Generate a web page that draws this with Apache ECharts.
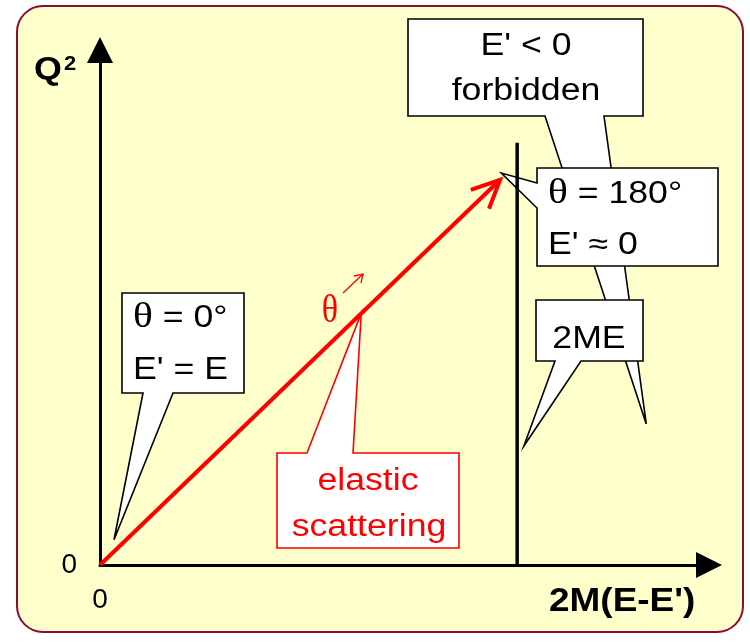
<!DOCTYPE html>
<html><head><meta charset="utf-8">
<script src="https://cdn.jsdelivr.net/npm/echarts@6/dist/echarts.min.js"></script>
<style>html,body{margin:0;padding:0;background:#fff}#c{width:750px;height:642px}</style>
</head><body><div id="c"></div>
<script>
// ---- data (diagram units: x = 2M(E-E'), y = Q^2) ----
const xTickLabels = ['0'];
const yTickLabels = ['0'];
const elasticScattering = [[0, 0, 65.7, 74.8]];      // start x, start y, end x, end y
const kinematicLimit = [[68.5, 0], [68.5, 82]];      // x = 2ME
const tipForbidden = [89.7, 27.4];
const tipBackward = [65.9, 76.1];
const tipLimit = [69.6, 23.1];
const tipForward = [2.3, 4.9];
const tipElastic = [42.9, 48.9];

const SANS = '"Liberation Sans", Arial, sans-serif';
const SERIF = '"Liberation Serif", "Times New Roman", serif';
const SX = 1.15;

const chart = echarts.init(document.getElementById('c'), null, {renderer: 'canvas'});
chart.setOption({
  animation: false,
  backgroundColor: '#ffffff',
  grid: {left: 100, right: 41, top: 50, bottom: 77, containLabel: false},
  xAxis: {
    type: 'value', min: 0, max: 100, interval: 100,
    axisLine: {show: true, lineStyle: {color: '#000', width: 3}, symbol: ['none', 'triangle'], symbolSize: [26, 26]},
    axisTick: {show: false}, splitLine: {show: false},
    axisLabel: {show: true, margin: 21, fontSize: 28, color: '#000', fontFamily: SANS,
      formatter: v => (v === 0 ? xTickLabels[0] : '')}
  },
  yAxis: {
    type: 'value', min: 0, max: 100, interval: 100,
    axisLine: {show: true, lineStyle: {color: '#000', width: 3}, symbol: ['none', 'triangle'], symbolSize: [26, 26]},
    axisTick: {show: false}, splitLine: {show: false},
    axisLabel: {show: true, margin: 23, fontSize: 28, color: '#000', fontFamily: SANS,
      formatter: v => (v === 0 ? yTickLabels[0] : '')}
  },
  series: [
    {
      type: 'line', data: kinematicLimit, symbol: 'none', z: 6,
      lineStyle: {color: '#000', width: 3.5}
    },
    {
      type: 'custom', z: 6,
      data: elasticScattering,
      encode: {x: [0, 2], y: [1, 3]},
      renderItem: function (params, api) {
        const p0 = api.coord([api.value(0), api.value(1)]);
        const p1 = api.coord([api.value(2), api.value(3)]);
        const ang = Math.atan2(p0[1] - p1[1], p0[0] - p1[0]);
        const L = 31, a = 25 * Math.PI / 180;
        const h1 = [p1[0] + L * Math.cos(ang + a), p1[1] + L * Math.sin(ang + a)];
        const h2 = [p1[0] + L * Math.cos(ang - a), p1[1] + L * Math.sin(ang - a)];
        return {type: 'group', children: [
          {type: 'line', shape: {x1: p0[0], y1: p0[1], x2: p1[0], y2: p1[1]}, style: {stroke: '#ff0000', lineWidth: 4}},
          {type: 'polyline', shape: {points: [h1, p1, h2]}, style: {stroke: '#ff0000', lineWidth: 4, fill: null, lineJoin: 'miter'}}
        ]};
      }
    }
  ]
});

function px(d) { return chart.convertToPixel({gridIndex: 0}, d); }

function callout(box, side, a, b, tip, stroke) {
  const [x1, y1, x2, y2] = box;
  let pts;
  if (side === 'bottom') pts = [[x1, y1], [x2, y1], [x2, y2], [b, y2], tip, [a, y2], [x1, y2]];
  else if (side === 'left') pts = [[x1, y1], [x2, y1], [x2, y2], [x1, y2], [x1, b], tip, [x1, a]];
  else pts = [[x1, y1], [a, y1], tip, [b, y1], [x2, y1], [x2, y2], [x1, y2]];
  return {type: 'polygon', z: 2, shape: {points: pts},
    style: {fill: '#ffffff', stroke: stroke || '#000', lineWidth: 1.6, lineJoin: 'miter'}};
}
function txt(text, x, y, align, opts) {
  opts = opts || {};
  return {type: 'text', z: 3, x: x, y: y, scaleX: opts.sx || SX,
    style: {text: text, x: 0, y: 0, fill: opts.fill || '#000', fontSize: opts.size || 31,
      fontFamily: opts.family || SANS, fontWeight: opts.weight || 'normal',
      align: align, verticalAlign: opts.va || 'middle', rich: opts.rich}};
}
const thetaRich = function (size, fill) { return {t: {fontFamily: SERIF, fontSize: size, fill: fill || '#000'}}; };

const g = [];
// panel
g.push({type: 'rect', z: -10, shape: {x: 17, y: 6, width: 726, height: 626, r: 26},
  style: {fill: '#ffffcc', stroke: '#8b0a32', lineWidth: 2}});
// callouts (forbidden first: its tail passes behind the others)
g.push(callout([408, 19, 643, 116], 'bottom', 545, 604, px(tipForbidden)));
g.push(callout([537, 168, 718, 266], 'left', 183, 208, px(tipBackward)));
g.push(callout([536, 300, 643, 361], 'bottom', 555, 581, px(tipLimit)));
g.push(callout([122, 293, 244, 393], 'bottom', 143, 173, px(tipForward)));
g.push(callout([277, 453, 459, 548], 'top', 307, 353, px(tipElastic), '#ff0000'));
// callout texts
g.push(txt("E' < 0", 526, 46, 'center'));
g.push(txt('forbidden', 526, 91, 'center'));
g.push(txt("{t|θ} = 180°", 548, 194, 'left', {rich: thetaRich(36)}));
g.push(txt("E' ≈ 0", 548, 245, 'left'));
g.push(txt('2ME', 589, 339, 'center'));
g.push(txt("{t|θ} = 0°", 133, 318, 'left', {rich: thetaRich(36)}));
g.push(txt("E' = E", 133, 370, 'left'));
g.push(txt('elastic', 368, 481, 'center', {fill: '#ff0000'}));
g.push(txt('scattering', 369, 527, 'center', {fill: '#ff0000'}));
// theta marker on the scattering line
g.push(txt('θ', 330, 311, 'center', {family: SERIF, size: 40, fill: '#ff0000', sx: 0.85}));
g.push({type: 'polyline', z: 3, shape: {points: [[343, 293], [363, 274]]}, style: {stroke: '#ff0000', lineWidth: 1.3, fill: null}});
g.push({type: 'polyline', z: 3, shape: {points: [[354, 276], [363, 274], [361, 283]]}, style: {stroke: '#ff0000', lineWidth: 1.3, fill: null}});
// axis names
g.push(txt('Q', 34, 70, 'left', {size: 32, weight: 'bold', sx: 1.12}));
g.push(txt('2', 64, 64, 'left', {size: 20, weight: 'bold', sx: 1.1}));
g.push(txt("2M(E-E')", 549, 602, 'left', {size: 33, weight: 'bold', sx: 1.12}));

chart.setOption({graphic: g});
</script></body></html>
